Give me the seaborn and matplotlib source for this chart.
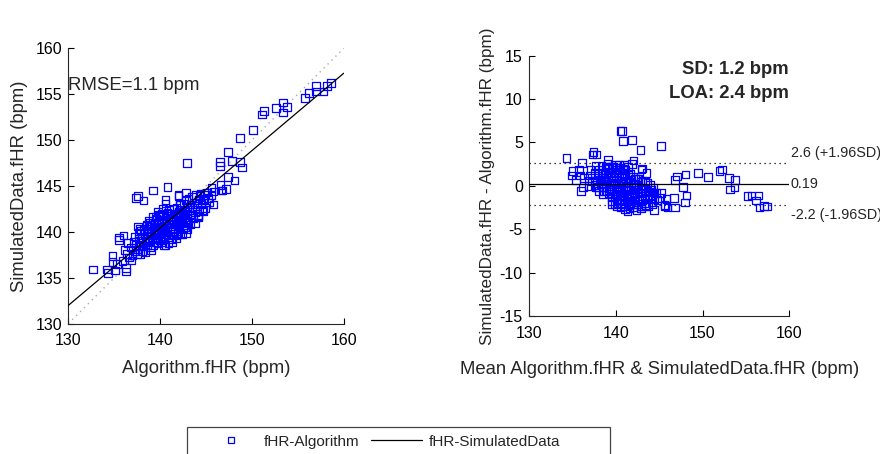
import numpy as np
import pandas as pd
import seaborn as sns
import matplotlib
matplotlib.use("Agg")
import matplotlib.pyplot as plt
from matplotlib.patches import Rectangle
from matplotlib.lines import Line2D

# ---------------- data ----------------
alg_fhr = [
    # main cluster
    136.6, 136.8, 137.0, 137.1, 137.3, 137.4, 136.9, 137.2, 137.5,
    137.6, 137.7, 137.8, 137.9, 138.0, 138.1, 138.2, 138.3, 138.4, 137.6, 137.9, 138.0, 138.2, 138.4, 138.5, 137.8,
    138.6, 138.6, 138.7, 138.8, 138.8, 138.9, 139.0, 139.0, 139.1, 139.2, 139.2, 139.3, 139.3, 139.4, 139.4, 139.5, 139.5, 138.7, 139.1, 139.0,
    139.6, 139.6, 139.7, 139.7, 139.8, 139.8, 139.9, 139.9, 140.0, 140.0, 140.1, 140.1, 140.2, 140.2, 140.3, 140.3, 140.4, 140.4, 140.5, 140.5, 139.8, 140.0, 140.2, 139.7, 140.4,
    140.6, 140.6, 140.7, 140.7, 140.8, 140.8, 140.9, 140.9, 141.0, 141.0, 141.1, 141.1, 141.2, 141.2, 141.3, 141.3, 141.4, 141.4, 141.5, 141.5, 140.9, 141.3,
    141.6, 141.6, 141.7, 141.7, 141.8, 141.8, 141.9, 141.9, 142.0, 142.0, 142.1, 142.1, 142.2, 142.2, 142.3, 142.3, 142.4, 142.4, 142.5, 142.5, 141.8, 142.2,
    142.6, 142.6, 142.7, 142.7, 142.8, 142.8, 142.9, 142.9, 143.0, 143.0, 143.1, 143.1, 143.2, 143.3, 143.3, 143.4, 143.5, 143.5,
    143.6, 143.7, 143.8, 143.9, 144.0, 144.1, 144.2, 144.3, 144.4, 144.5,
    144.7, 144.9, 145.1, 145.3, 145.6, 145.8,
    # scattered points
    158.6, 158.2, 157.0, 157.0, 157.8, 155.8, 156.2, 153.4, 153.4, 153.8, 152.6, 151.3, 151.1, 150.1,
    148.7, 147.4, 147.8, 146.5, 146.5, 148.7, 148.9, 147.4, 148.1, 142.9, 146.6, 146.7, 147.2, 140.8,
    145.6, 145.8, 142.8, 142.0, 142.0, 140.6, 140.6, 144.3, 144.9, 145.2, 144.8, 144.6, 144.1, 144.2,
    132.7, 134.2, 134.3, 135.1, 136.3, 136.3, 134.8, 135.5, 135.5, 136.0, 137.4, 137.6, 138.2, 139.2,
    140.3, 139.5, 138.9, 138.6, 137.8, 137.7, 136.5, 136.2, 136.4, 134.8, 135.3, 135.9, 142.8, 140.6,
    143.8, 144.7, 146.8,
]
sim_fhr = [
    137.2, 138.3, 137.5, 138.9, 137.9, 138.6, 136.9, 139.5, 137.6,
    138.1, 139.2, 138.5, 140.1, 137.9, 139.0, 138.4, 139.8, 137.8, 140.6, 138.8, 139.4, 140.2, 138.9, 140.7, 137.6,
    138.5, 139.6, 140.3, 139.0, 141.2, 138.3, 139.9, 140.8, 139.3, 141.6, 138.6, 140.2, 139.7, 141.0, 138.9, 140.5, 139.2, 139.2, 140.6, 138.0,
    141.4, 139.8, 140.1, 138.8, 140.9, 139.4, 141.9, 140.3, 139.1, 140.6, 141.3, 139.9, 140.4, 138.9, 141.7, 140.0, 139.5, 141.0, 140.7, 139.2, 142.2, 141.8, 142.0, 139.3, 138.6,
    141.5, 140.2, 139.7, 141.0, 142.1, 140.5, 139.4, 141.3, 140.8, 142.4, 140.0, 141.7, 139.2, 141.1, 140.4, 142.0, 141.4, 139.8, 140.9, 142.5, 138.8, 138.9,
    141.9, 140.3, 141.2, 139.6, 142.6, 140.8, 141.5, 139.9, 142.2, 140.6, 141.0, 142.9, 139.8, 141.8, 140.9, 142.4, 141.3, 139.7, 142.0, 140.4, 139.3, 143.0,
    141.6, 143.1, 140.5, 142.3, 141.1, 143.4, 142.0, 140.3, 142.7, 141.4, 143.6, 141.0, 142.4, 140.8, 143.0, 141.9, 142.6, 143.8,
    141.5, 143.2, 142.2, 144.0, 142.8, 141.7, 143.5, 142.3, 144.2, 143.0,
    143.6, 142.6, 144.3, 143.2, 144.0, 143.0,
    156.2, 155.9, 155.9, 155.3, 155.3, 154.6, 155.1, 154.1, 153.0, 153.6, 153.5, 153.2, 152.8, 151.1,
    150.2, 148.7, 147.7, 147.6, 147.2, 147.6, 147.0, 146.0, 145.6, 147.5, 145.1, 144.5, 144.7, 144.9,
    144.8, 144.4, 144.3, 144.0, 143.9, 143.5, 143.1, 143.9, 144.0, 143.7, 143.4, 142.4, 141.8, 141.6,
    135.9, 135.9, 135.5, 135.8, 136.1, 135.7, 137.4, 139.4, 139.1, 139.6, 143.7, 143.9, 143.4, 144.5,
    142.5, 141.6, 141.0, 140.8, 140.3, 139.9, 138.8, 138.0, 137.6, 136.7, 136.5, 136.8, 139.9, 138.5,
    141.0, 142.3, 144.5,
]

fit_slope = 0.843
fit_intercept = 22.4
rmse_text = "RMSE=1.1 bpm"
sd_text = "SD: 1.2 bpm"
loa_text = "LOA: 2.4 bpm"
mean_diff = 0.19
upper_loa = 2.6
lower_loa = -2.2
mean_label = "0.19"
upper_label = "2.6 (+1.96SD)"
lower_label = "-2.2 (-1.96SD)"
legend_labels = ["fHR-Algorithm", "fHR-SimulatedData"]

df = pd.DataFrame({"alg": alg_fhr, "sim": sim_fhr})
df["mean"] = (df["alg"] + df["sim"]) / 2
df["diff"] = df["sim"] - df["alg"]

# ---------------- style ----------------
sns.set_theme(style="ticks")
plt.rcParams["font.family"] = ["Liberation Sans", "DejaVu Sans"]
plt.rcParams["axes.linewidth"] = 0.8
plt.rcParams["axes.unicode_minus"] = False

W, H = 880, 454
fig = plt.figure(figsize=(W / 100, H / 100), dpi=100)

def px_axes(x0, y0, x1, y1):
    return fig.add_axes([x0 / W, 1 - y1 / H, (x1 - x0) / W, (y1 - y0) / H])

ax1 = px_axes(68.3, 48.3, 343.7, 323.7)
ax2 = px_axes(529, 55.7, 789.3, 316)

blue = "#0000FF"
mk = dict(marker="s", s=30, facecolor="none", edgecolor=blue, linewidth=0.9, zorder=3)

LBL = 13.3

# left panel
sns.scatterplot(data=df, x="alg", y="sim", ax=ax1, legend=False, **mk)
ax1.axline((130, 130), slope=1, color="#aaaaaa", linestyle=(0, (1, 3)), linewidth=1, zorder=2)
ax1.axline((0, fit_intercept), slope=fit_slope, color="black", linewidth=0.9, zorder=4)
ax1.set_xlim(130, 160)
ax1.set_ylim(130, 160)
ax1.set_xticks([130, 140, 150, 160])
ax1.set_yticks([130, 135, 140, 145, 150, 155, 160])
ax1.set_xlabel("Algorithm.fHR (bpm)", fontsize=LBL, labelpad=8)
ax1.set_ylabel("SimulatedData.fHR (bpm)", fontsize=LBL, labelpad=5.5)
ax1.text(130.0, 156.0, rmse_text, fontsize=13.4, va="center", ha="left", zorder=5)

# right panel
sns.scatterplot(data=df, x="mean", y="diff", ax=ax2, legend=False, **mk)
ax2.axhline(mean_diff, color="black", linewidth=0.9, zorder=4)
ax2.axhline(upper_loa, color="black", linestyle=(0, (1, 3)), linewidth=0.9, zorder=2)
ax2.axhline(lower_loa, color="black", linestyle=(0, (1, 3)), linewidth=0.9, zorder=2)
ax2.set_xlim(130, 160)
ax2.set_ylim(-15, 15)
ax2.set_xticks([130, 140, 150, 160])
ax2.set_yticks([-15, -10, -5, 0, 5, 10, 15])
ax2.set_xlabel("Mean Algorithm.fHR & SimulatedData.fHR (bpm)", fontsize=LBL, labelpad=14.5)
ax2.set_ylabel("SimulatedData.fHR - Algorithm.fHR (bpm)", fontsize=12.3, labelpad=3)
tr = ax2.get_yaxis_transform()
ax2.text(1.005, upper_loa + 0.35, upper_label, transform=tr, fontsize=10.4, va="bottom", ha="left")
ax2.text(1.005, mean_diff, mean_label, transform=tr, fontsize=10.4, va="center", ha="left")
ax2.text(1.005, lower_loa - 0.35, lower_label, transform=tr, fontsize=10.4, va="top", ha="left")
ax2.text(159.9, 13.4, sd_text, fontsize=13.3, fontweight="bold", ha="right", va="center")
ax2.text(159.9, 10.7, loa_text, fontsize=13.3, fontweight="bold", ha="right", va="center")

for ax in (ax1, ax2):
    sns.despine(ax=ax)
    ax.tick_params(direction="in", length=4, width=0.8, labelsize=11.5, colors="black")
    ax.tick_params(axis="x", pad=7)
    ax.tick_params(axis="y", pad=4.5)
    ax.set_facecolor("white")

# legend
fig.patches.append(Rectangle((187 / W, -0.05), (610 - 187) / W, 1 - 427 / H + 0.05,
                             transform=fig.transFigure, fill=False, edgecolor="#444444",
                             linewidth=0.9, figure=fig))
handles = [
    Line2D([], [], linestyle="none", marker="s", markersize=5, markerfacecolor="none",
           markeredgecolor=blue, markeredgewidth=0.9),
    Line2D([], [], color="black", linewidth=0.9),
]
fig.legend(handles, legend_labels, loc="center left", bbox_to_anchor=(206 / W, 1 - 441.7 / H),
           ncol=2, frameon=False, fontsize=11, handlelength=3.33, handletextpad=0.45,
           columnspacing=0.75, borderpad=0, borderaxespad=0)

fig.savefig("out.png", dpi=100, facecolor="white")
